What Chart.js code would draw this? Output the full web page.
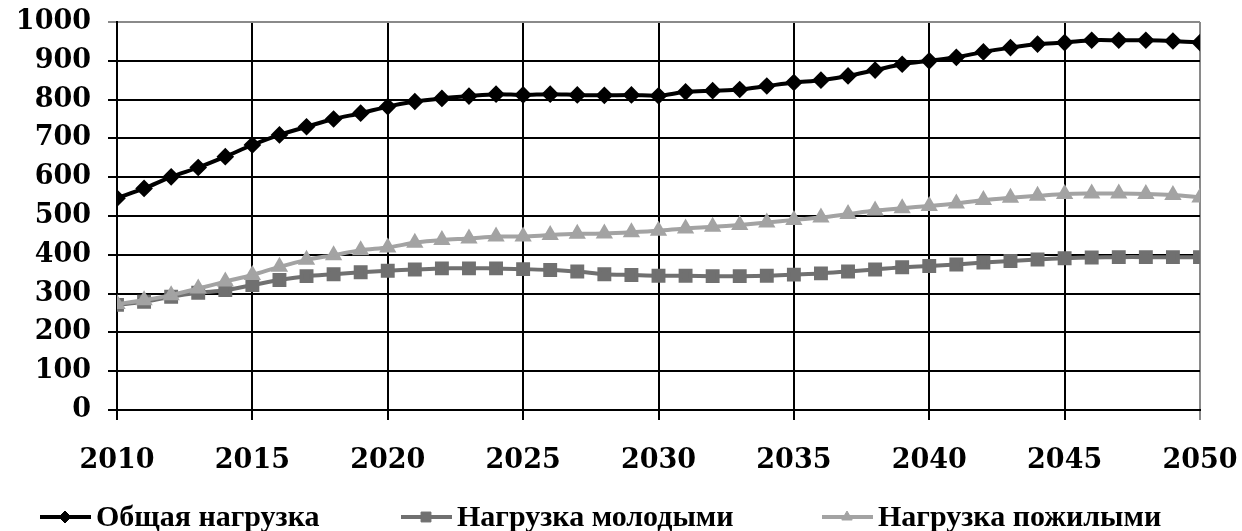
<!DOCTYPE html>
<html>
<head>
<meta charset="utf-8">
<script src="https://cdn.jsdelivr.net/npm/chart.js@4.4.1/dist/chart.umd.min.js"></script>
<style>
  html, body { margin: 0; padding: 0; background: #fff; }
  #wrap { width: 1242px; height: 531px; position: relative; }
</style>
</head>
<body>
<div id="wrap"><canvas id="c" width="1242" height="531"></canvas></div>
<script>
// Years of the projection
const years = [2010,2011,2012,2013,2014,2015,2016,2017,2018,2019,
               2020,2021,2022,2023,2024,2025,2026,2027,2028,2029,
               2030,2031,2032,2033,2034,2035,2036,2037,2038,2039,
               2040,2041,2042,2043,2044,2045,2046,2047,2048,2049,2050];

// Total dependency ratio (per 1000 working-age)
const totalLoad = [546,571,601,625,653,683,709,730,750,765,
                   782,795,803,809,814,812,814,812,811,812,
                   810,820,823,826,835,844,850,861,876,891,
                   900,909,923,934,943,947,953,953,953,951,947];

// Youth dependency
const youthLoad = [271,279,292,302,309,322,335,345,350,355,
                   359,362,365,365,365,363,361,357,350,348,
                   346,346,345,345,346,349,352,357,362,368,
                   371,375,380,384,388,391,393,394,394,394,394];

// Elderly dependency
const elderLoad = [273,283,296,313,331,348,369,387,399,412,
                   419,431,438,442,447,447,451,454,455,458,
                   462,468,472,477,483,490,496,505,514,520,
                   526,532,541,547,552,557,558,558,557,554,548];

const xTicks = [2010,2015,2020,2025,2030,2035,2040,2045,2050];
const yTicks = [0,100,200,300,400,500,600,700,800,900,1000];

const seriesNames = ['Общая нагрузка', 'Нагрузка молодыми', 'Нагрузка пожилыми'];

const toPoints = arr => years.map((y, i) => ({ x: y, y: arr[i] }));

const tickFont = { family: '"DejaVu Serif", serif', weight: 'bold', size: 27 };

// Legend drawn along the bottom edge, one entry per dataset
const bottomLegend = {
  id: 'bottomLegend',
  afterDraw(chart) {
    const ctx = chart.ctx;
    const slots = [40, 401, 822];
    const yMid = 517;
    ctx.save();
    chart.data.datasets.forEach((ds, i) => {
      const x0 = slots[i];
      ctx.strokeStyle = ds.borderColor;
      ctx.lineWidth = 4;
      ctx.beginPath();
      ctx.moveTo(x0, yMid);
      ctx.lineTo(x0 + 51, yMid);
      ctx.stroke();
      ctx.fillStyle = ds.pointBackgroundColor;
      ctx.strokeStyle = ds.pointBorderColor;
      ctx.lineWidth = 1;
      Chart.helpers.drawPoint(ctx, {
        pointStyle: ds.pointStyle,
        radius: ds.pointRadius,
        rotation: 0,
        borderWidth: 1
      }, x0 + 25, yMid);
      ctx.fillStyle = '#000';
      ctx.font = 'bold 30px "Liberation Serif", serif';
      ctx.textBaseline = 'middle';
      ctx.textAlign = 'left';
      ctx.fillText(ds.label, x0 + 56, yMid + 1);
    });
    ctx.restore();
  }
};

new Chart(document.getElementById('c'), {
  type: 'line',
  data: {
    datasets: [
      {
        label: seriesNames[0],
        data: toPoints(totalLoad),
        borderColor: '#000000',
        backgroundColor: '#000000',
        pointBackgroundColor: '#000000',
        pointBorderColor: '#000000',
        pointStyle: 'rectRot',
        pointRadius: 6,
        borderWidth: 4,
        tension: 0.3,
        order: 3
      },
      {
        label: seriesNames[1],
        data: toPoints(youthLoad),
        borderColor: '#707070',
        backgroundColor: '#707070',
        pointBackgroundColor: '#707070',
        pointBorderColor: '#707070',
        pointStyle: 'rect',
        pointRadius: 7,
        borderWidth: 4,
        tension: 0.3,
        order: 2
      },
      {
        label: seriesNames[2],
        data: toPoints(elderLoad),
        borderColor: '#a3a3a3',
        backgroundColor: '#a3a3a3',
        pointBackgroundColor: '#a3a3a3',
        pointBorderColor: '#a3a3a3',
        pointStyle: 'triangle',
        pointRadius: 6,
        borderWidth: 4,
        tension: 0.3,
        order: 1
      }
    ]
  },
  options: {
    responsive: false,
    animation: false,
    layout: { padding: { left: 0, top: 22, right: 42, bottom: 0 } },
    plugins: {
      legend: { display: false },
      tooltip: { enabled: false }
    },
    scales: {
      x: {
        type: 'linear',
        min: 2010,
        max: 2050,
        afterBuildTicks: s => { s.ticks = xTicks.map(v => ({ value: v })); },
        afterFit: s => { s.height = 121; s.paddingLeft = 0; s.paddingRight = 0; },
        ticks: {
          color: '#000',
          font: tickFont,
          padding: 25,
          maxRotation: 0,
          callback: v => String(v)
        },
        grid: {
          color: c => (c.tick && c.tick.value === 2050) ? '#8a8a8a' : '#000',
          lineWidth: 2,
          tickLength: 10,
          drawTicks: true
        },
        border: { color: '#000', width: 2 }
      },
      y: {
        min: 0,
        max: 1000,
        afterBuildTicks: s => { s.ticks = yTicks.map(v => ({ value: v })); },
        afterFit: s => { s.width = 117; s.paddingTop = 0; s.paddingBottom = 0; },
        ticks: {
          color: '#000',
          font: tickFont,
          padding: 17,
          callback: v => String(v)
        },
        grid: {
          color: c => (c.tick && c.tick.value === 1000) ? '#8a8a8a' : '#000',
          lineWidth: 2,
          tickLength: 9,
          drawTicks: true
        },
        border: { color: '#000', width: 2 }
      }
    }
  },
  plugins: [bottomLegend]
});
</script>
</body>
</html>
